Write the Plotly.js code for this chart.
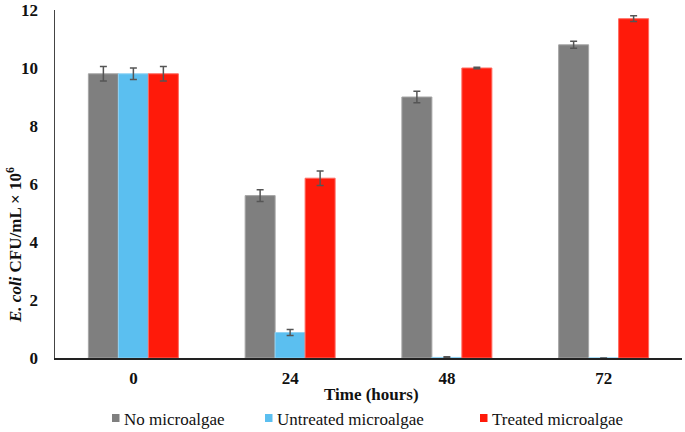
<!DOCTYPE html>
<html>
<head>
<meta charset="utf-8">
<script src="https://cdn.plot.ly/plotly-3.0.1.min.js"></script>
<style>html,body{margin:0;padding:0;background:#fff;}#chart{width:685px;height:432px;}</style>
</head>
<body>
<div id="chart"></div>
<script>
// ---- data ----
var categories = ['0', '24', '48', '72'];
var seriesNames = ['No microalgae', 'Untreated microalgae', 'Treated microalgae'];
var noMicroalgae = [9.8, 5.6, 9.0, 10.8];
var noMicroalgaeErr = [0.25, 0.2, 0.2, 0.12];
var untreated = [9.8, 0.88, 0.02, 0];
var untreatedErr = [0.2, 0.1, 0.02, 0];
var treated = [9.8, 6.2, 10.0, 11.7];
var treatedErr = [0.25, 0.25, 0.03, 0.1];
var yTicks = [0, 2, 4, 6, 8, 10, 12];
var xTitle = 'Time (hours)';

// ---- style ----
var colors = ['#7f7f7f', '#5bbff0', '#ff1a0a'];
var edge = ['#a6a6a6', '#8fd3f5', '#ff6a60'];
var W = 685, H = 432, L = 55, R = 3, T = 10, B = 74;
var pw = W - L - R, ph = H - T - B;
function px(x) { return (x - L) / pw; }
function py(y) { return (H - B - y) / ph; }

var vals = [noMicroalgae, untreated, treated];
var errs = [noMicroalgaeErr, untreatedErr, treatedErr];
var traces = vals.map(function (v, i) {
  return {
    type: 'bar', x: categories, y: v, name: seriesNames[i],
    marker: { color: colors[i], line: { color: edge[i], width: 1 } },
    error_y: { type: 'data', array: errs[i], visible: true, color: '#555555', thickness: 1.5, width: 3.5 },
    showlegend: false
  };
});

var serif = 'Liberation Serif';
var txt = '#111';
var legX = [112, 265, 480];
var shapes = [], annotations = [];
legX.forEach(function (x, i) {
  shapes.push({ type: 'rect', xref: 'paper', yref: 'paper', x0: px(x), x1: px(x + 7.5), y0: py(422), y1: py(414),
    fillcolor: colors[i], line: { width: 0 } });
  annotations.push({ xref: 'paper', yref: 'paper', x: px(x + 10), y: py(419), xanchor: 'left', yanchor: 'middle',
    text: seriesNames[i], showarrow: false, font: { family: serif, size: 17, color: txt } });
});
annotations.push({ xref: 'paper', yref: 'paper', x: px(14), y: py(245), xanchor: 'center', yanchor: 'middle',
  textangle: -90, showarrow: false,
  text: '<i>E. coli</i> CFU/mL × 10<sup>6</sup>', font: { family: serif, size: 17, color: txt, weight: 'bold' } });
annotations.push({ xref: 'paper', yref: 'paper', x: px(371), y: py(394), xanchor: 'center', yanchor: 'middle',
  showarrow: false, text: xTitle, font: { family: serif, size: 17, color: txt, weight: 'bold' } });

var layout = {
  width: W, height: H,
  margin: { l: L, r: R, t: T, b: B, pad: 0 },
  paper_bgcolor: '#fff', plot_bgcolor: '#fff',
  font: { family: serif },
  barmode: 'group', bargap: 0.426, bargroupgap: 0,
  showlegend: false,
  xaxis: {
    type: 'category', categoryorder: 'array', categoryarray: categories,
    showline: true, linecolor: '#222', linewidth: 1.5, ticks: '', showgrid: false, zeroline: false,
    tickfont: { family: serif, size: 17, color: txt, weight: 'bold' }, ticklabelstandoff: 4
  },
  yaxis: {
    range: [0, 12], tickvals: yTicks, ticktext: yTicks.map(String),
    showline: true, linecolor: '#444', linewidth: 1.5, ticks: '', showgrid: false, zeroline: false,
    tickfont: { family: serif, size: 17, color: txt, weight: 'bold' }, ticklabelstandoff: 12
  },
  shapes: shapes,
  annotations: annotations
};
Plotly.newPlot('chart', traces, layout, { displayModeBar: false, staticPlot: true });
</script>
</body>
</html>
